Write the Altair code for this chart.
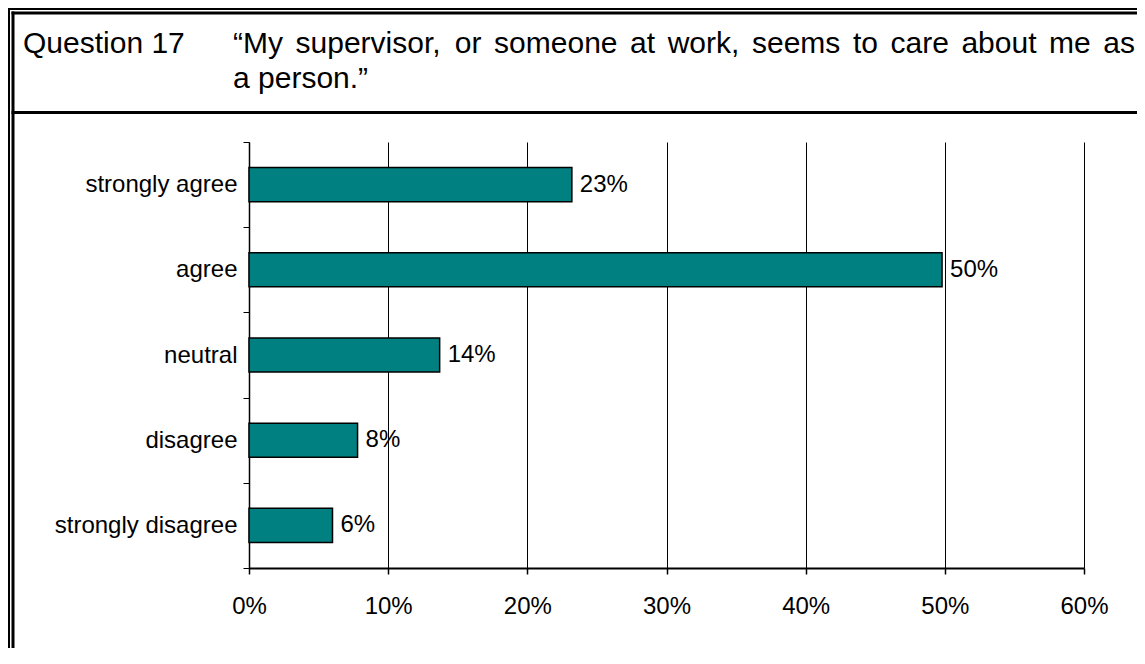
import altair as alt
import pandas as pd

# ---- data ----
categories = ["strongly agree", "agree", "neutral", "disagree", "strongly disagree"]
shares = [0.232, 0.498, 0.137, 0.078, 0.060]
x_ticks = [0.0, 0.1, 0.2, 0.3, 0.4, 0.5, 0.6]
question_label = "Question 17"
question_line1 = "\u201cMy supervisor, or someone at work, seems to care about me as"
question_line2 = "a person.\u201d"

FONT = "Liberation Sans"
df = pd.DataFrame({"category": categories, "share": shares})
one = pd.DataFrame({"k": [0]})

# plot area geometry (page px): origin at (249, 142); svg origin at (8, 8)
W, H = 835, 426
PAD_L, PAD_T = 241, 134
SVG_W, SVG_H = 1129, 640
PAD_R = SVG_W - PAD_L - W
PAD_B = SVG_H - PAD_T - H
OX, OY = 249, 142  # page coords of plot origin


def rx(px):
    return px - OX


def ry(py):
    return py - OY


y_enc = alt.Y(
    "category:N", sort=categories, title=None,
    scale=alt.Scale(paddingInner=0, paddingOuter=0),
    axis=alt.Axis(tickBand="extent", tickSize=6, tickColor="black", tickWidth=1,
                  domainColor="black", domainWidth=1.5, labelFontSize=24, labelFont=FONT,
                  labelColor="black", labelPadding=6, labelLimit=0, grid=False),
)
x_enc = alt.X(
    "share:Q", title=None, scale=alt.Scale(domain=[0, 0.6], nice=False),
    axis=alt.Axis(values=x_ticks, format=".0%", grid=True, gridColor="black",
                  gridWidth=1, gridOpacity=1, tickSize=6, tickColor="black",
                  tickWidth=1.5, domainColor="black", domainWidth=2,
                  labelFontSize=24, labelFont=FONT, labelColor="black",
                  labelPadding=20, labelLimit=0, labelFlush=False,
                  labelOverlap=False),
)

bars = alt.Chart(df).mark_bar(
    color="#008080", stroke="black", strokeWidth=1.5, height={"band": 0.4}
).encode(x=x_enc, y=y_enc)

labels = alt.Chart(df).mark_text(
    align="left", baseline="middle", dx=8, fontSize=24, font=FONT, color="black"
).encode(
    x=alt.X("share:Q"),
    y=alt.Y("category:N", sort=categories),
    text=alt.Text("share:Q", format=".0%"),
)


def hrule(py, px1, px2, w):
    return alt.Chart(one).mark_rule(color="black", strokeWidth=w).encode(
        x=alt.value(rx(px1)), x2=alt.value(rx(px2)), y=alt.value(ry(py)))


def vrule(px, py1, py2, w):
    return alt.Chart(one).mark_rule(color="black", strokeWidth=w).encode(
        x=alt.value(rx(px)), y=alt.value(ry(py1)), y2=alt.value(ry(py2)))


frame = [
    hrule(9, 8, 1137, 2),
    hrule(13, 11.5, 1137, 3),
    vrule(9, 8, 648, 2),
    vrule(13, 11.5, 648, 3),
    hrule(112.5, 11.5, 1137, 3),
]


def txt(word, px, py, size=30):
    return alt.Chart(one).mark_text(
        align="left", baseline="alphabetic", fontSize=size, font=FONT, color="black"
    ).encode(x=alt.value(rx(px)), y=alt.value(ry(py)), text=alt.value(word))


# Arial-compatible advance widths (per 1000 em) to justify the first line
AW = {" ": 278, ",": 278, ".": 278, "M": 833, "a": 556, "b": 556, "c": 500,
      "e": 556, "i": 222, "k": 500, "m": 833, "n": 556, "o": 556, "p": 556,
      "r": 333, "s": 500, "t": 278, "u": 556, "v": 500, "w": 722, "y": 500,
      "\u201c": 333, "\u201d": 333}


def width(s, size=30):
    return sum(AW.get(c, 556) for c in s) * size / 1000.0


words = question_line1.split(" ")
start, end = 233, 1135
total = sum(width(w) for w in words)
gap = (end - start - total) / (len(words) - 1)
texts = [txt(question_label, 23, 53)]
xpos = start
for w in words:
    texts.append(txt(w, xpos, 53))
    xpos += width(w) + gap
texts.append(txt(question_line2, start, 87.5))

chart = alt.layer(bars, labels, *frame, *texts).properties(
    width=W, height=H,
    padding={"left": PAD_L, "top": PAD_T, "right": PAD_R, "bottom": PAD_B},
    autosize=alt.AutoSizeParams(type="none"),
    background="white",
).configure_view(stroke=None)

chart.save("out.html", embed_options={"renderer": "svg", "actions": False})
